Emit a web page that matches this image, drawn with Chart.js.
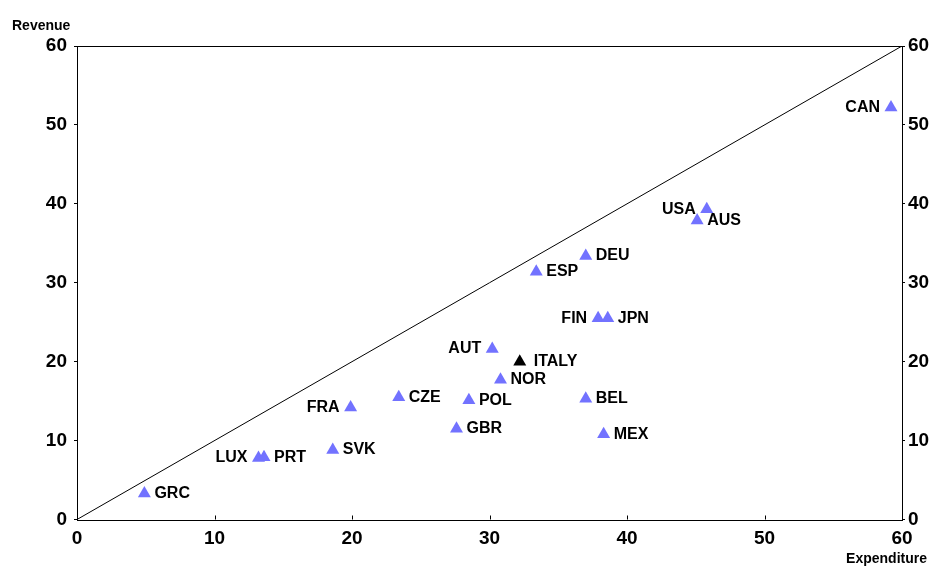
<!DOCTYPE html>
<html>
<head>
<meta charset="utf-8">
<script src="https://cdn.jsdelivr.net/npm/chart.js@4.4.1/dist/chart.umd.min.js"></script>
<style>
    html, body { margin: 0; padding: 0; background: #fff; }
    #wrap { width: 936px; height: 567px; position: relative; }
</style>
</head>
<body>
<div id="wrap"><canvas id="scatterChart"></canvas></div>
<script>
// Country data
const countries   = ['GRC', 'LUX', 'PRT', 'SVK', 'FRA', 'CZE', 'POL', 'GBR', 'AUT', 'ITALY', 'NOR', 'BEL', 'MEX', 'FIN', 'JPN', 'ESP', 'DEU', 'USA', 'AUS', 'CAN'];
const expenditure = [4.9, 13.2, 13.6, 18.6, 19.9, 23.4, 28.5, 27.6, 30.2, 32.2, 30.8, 37.0, 38.3, 37.9, 38.6, 33.4, 37.0, 45.8, 45.1, 59.2];
const revenue     = [3.3, 7.8, 7.9, 8.8, 14.2, 15.5, 15.1, 11.5, 21.6, 20.0, 17.7, 15.3, 10.8, 25.5, 25.5, 31.4, 33.4, 39.3, 37.9, 52.2];
const axisTicks   = [0, 10, 20, 30, 40, 50, 60];

const FONT = '"Liberation Sans", Arial, sans-serif';
const BLUE = '#7272ff';
const leftLabels = ['LUX', 'FRA', 'AUT', 'FIN', 'USA', 'CAN'];

const points = countries.map((c, i) => ({ x: expenditure[i], y: revenue[i] }));

// Frame, inward x ticks and axis titles
const framePlugin = {
    id: 'frame',
    afterDraw(chart) {
        const { ctx, chartArea: a, scales } = chart;
        ctx.save();
        ctx.strokeStyle = '#000';
        ctx.lineWidth = 1;
        ctx.strokeRect(Math.round(a.left) + 0.5, Math.round(a.top) + 0.5,
            Math.round(a.right - a.left), Math.round(a.bottom - a.top));
        ctx.beginPath();
        scales.x.ticks.forEach(t => {
            const px = Math.round(scales.x.getPixelForValue(t.value)) + 0.5;
            ctx.moveTo(px, a.bottom);
            ctx.lineTo(px, a.bottom - 4);
        });
        ctx.stroke();

        ctx.fillStyle = '#000';
        ctx.font = 'bold 14px ' + FONT;
        ctx.textBaseline = 'alphabetic';
        ctx.textAlign = 'left';
        ctx.fillText('Revenue', 12, 30);
        ctx.textAlign = 'right';
        ctx.fillText('Expenditure', 927, 563);
        ctx.restore();
    }
};

// Country labels next to each triangle
const labelPlugin = {
    id: 'countryLabels',
    afterDatasetsDraw(chart) {
        const { ctx } = chart;
        const meta = chart.getDatasetMeta(1);
        ctx.save();
        ctx.font = 'bold 16px ' + FONT;
        ctx.fillStyle = '#000';
        ctx.textBaseline = 'middle';
        meta.data.forEach((el, i) => {
            const name = countries[i];
            if (leftLabels.includes(name)) {
                ctx.textAlign = 'right';
                ctx.fillText(name, el.x - 11, el.y);
            } else {
                ctx.textAlign = 'left';
                ctx.fillText(name, el.x + (name === 'ITALY' ? 14 : 10), el.y);
            }
        });
        ctx.restore();
    }
};

const tickFont = { family: FONT, size: 19, weight: 'bold' };

new Chart(document.getElementById('scatterChart'), {
    type: 'scatter',
    data: {
        datasets: [
            {
                data: [{ x: 0, y: 0 }, { x: 60, y: 60 }],
                showLine: true,
                borderColor: '#000',
                borderWidth: 1,
                pointRadius: 0
            },
            {
                data: points,
                pointStyle: 'triangle',
                pointRadius: 7.5,
                pointHoverRadius: 7.5,
                borderWidth: 0,
                backgroundColor: countries.map(c => c === 'ITALY' ? '#000' : BLUE),
                borderColor: countries.map(c => c === 'ITALY' ? '#000' : BLUE)
            }
        ]
    },
    options: {
        responsive: true,
        maintainAspectRatio: false,
        animation: false,
        layout: { padding: { top: 46, left: 0, right: 0, bottom: 0 } },
        plugins: {
            legend: { display: false },
            tooltip: { enabled: false }
        },
        scales: {
            x: {
                type: 'linear',
                min: 0,
                max: 60,
                afterBuildTicks: s => { s.ticks = axisTicks.map(v => ({ value: v })); },
                afterFit: s => { s.height = 47.5; },
                grid: { display: false, drawTicks: false },
                border: { display: false },
                ticks: { color: '#000', font: tickFont, padding: 8, maxRotation: 0 }
            },
            y: {
                type: 'linear',
                position: 'left',
                min: 0,
                max: 60,
                afterBuildTicks: s => { s.ticks = axisTicks.map(v => ({ value: v })); },
                afterFit: s => { s.width = 77; },
                grid: { drawOnChartArea: false, drawTicks: true, tickLength: 3, color: '#000' },
                border: { display: false },
                ticks: { color: '#000', font: tickFont, padding: 7 }
            },
            y2: {
                type: 'linear',
                position: 'right',
                min: 0,
                max: 60,
                afterBuildTicks: s => { s.ticks = axisTicks.map(v => ({ value: v })); },
                afterFit: s => { s.width = 34; },
                grid: { drawOnChartArea: false, drawTicks: true, tickLength: 3, color: '#000' },
                border: { display: false },
                ticks: { color: '#000', font: tickFont, padding: 3 }
            }
        }
    },
    plugins: [framePlugin, labelPlugin]
});
</script>
</body>
</html>
